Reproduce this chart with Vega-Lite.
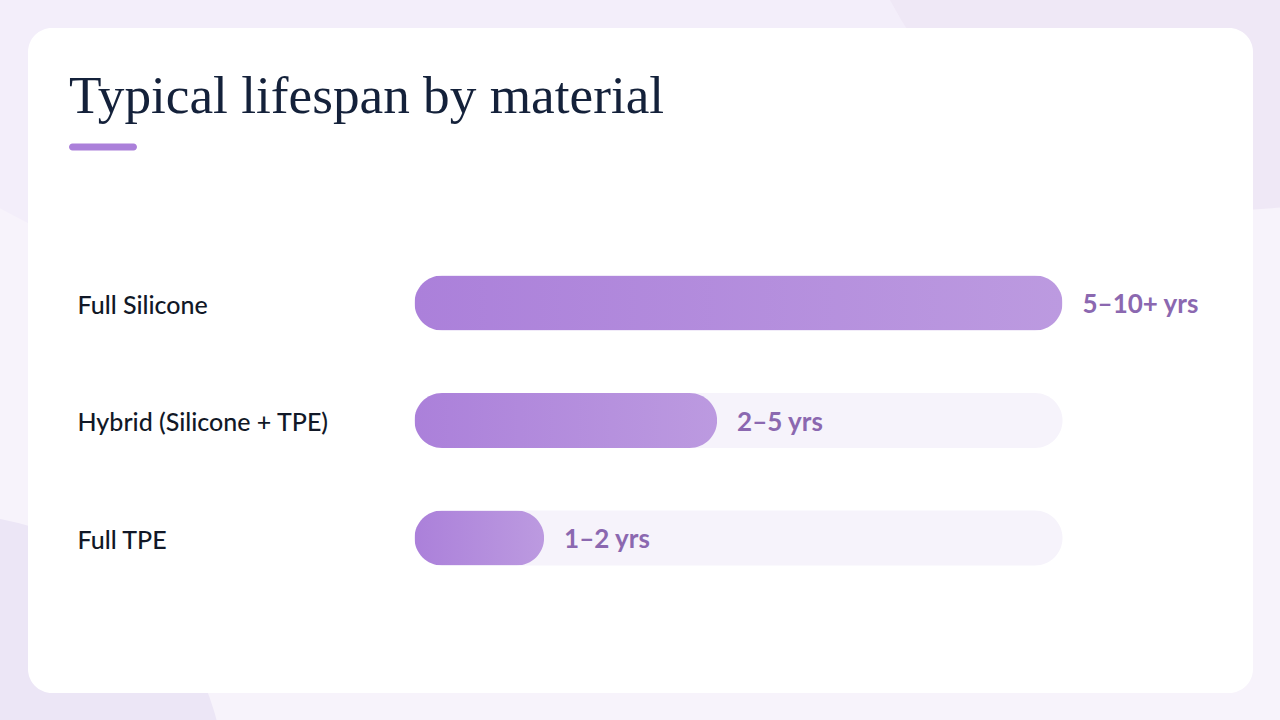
{
  "$schema": "https://vega.github.io/schema/vega-lite/v6.json",
  "autosize": "none",
  "width": 1225,
  "height": 665,
  "padding": {"left": 28, "top": 28, "right": 27, "bottom": 27},
  "background": "#f7f3fb",
  "datasets": {
    "backdrop": [
      {"blob": "top right"},
      {"blob": "lower left"}
    ],
    "lifespan": [
      {"material": "Full Silicone", "share": 100, "label": "5–10+ yrs"},
      {"material": "Hybrid (Silicone + TPE)", "share": 46.7, "label": "2–5 yrs"},
      {"material": "Full TPE", "share": 20, "label": "1–2 yrs"}
    ]
  },
  "config": {"view": {"stroke": null}},
  "layer": [
    {
      "data": {"values": [{"blob": "top left"}]},
      "mark": {"type": "circle", "opacity": 1, "clip": false, "size": 3422500, "color": "#f3eefa"},
      "encoding": {
        "x": {"field": "blob", "type": "nominal", "axis": null, "scale": {"type": "point", "range": [422, 422]}},
        "y": {"field": "blob", "type": "nominal", "axis": null, "scale": {"type": "point", "range": [-628, -628]}}
      }
    },
    {
      "data": {"name": "backdrop"},
      "mark": {"type": "circle", "opacity": 1, "clip": false},
      "encoding": {
        "x": {"field": "blob", "type": "nominal", "axis": null, "scale": {"type": "point", "domain": ["top right", "lower left"], "range": [1208, -78], "padding": 0}},
        "y": {"field": "blob", "type": "nominal", "axis": null, "scale": {"type": "point", "domain": ["top right", "lower left"], "range": [-208, 762], "padding": 0}},
        "size": {"field": "blob", "type": "nominal", "legend": null, "scale": {"domain": ["top right", "lower left"], "range": [608400, 303800]}},
        "color": {"field": "blob", "type": "nominal", "legend": null, "scale": {"domain": ["top right", "lower left"], "range": ["#efe8f6", "#ece6f6"]}}
      }
    },
    {
      "data": {"values": [{"panel": "card"}]},
      "mark": {"type": "rect", "color": "#ffffff", "cornerRadius": 24},
      "encoding": {}
    },
    {
      "data": {"values": [{"heading": "Typical lifespan by material"}]},
      "mark": {"type": "text", "align": "left", "baseline": "alphabetic", "font": "Liberation Serif", "fontSize": 53.25, "color": "#14213a"},
      "encoding": {
        "x": {"field": "heading", "type": "nominal", "axis": null, "scale": {"type": "point", "range": [41, 41]}},
        "y": {"field": "heading", "type": "nominal", "axis": null, "scale": {"type": "point", "range": [85, 85]}},
        "text": {"field": "heading", "type": "nominal"}
      }
    },
    {
      "data": {"values": [{"accent": "title rule"}]},
      "mark": {"type": "tick", "orient": "horizontal", "size": 68, "thickness": 7, "cornerRadius": 3.5, "color": "#ab80da", "opacity": 1},
      "encoding": {
        "x": {"field": "accent", "type": "nominal", "axis": null, "scale": {"type": "point", "range": [75, 75]}},
        "y": {"field": "accent", "type": "nominal", "axis": null, "scale": {"type": "point", "range": [119, 119]}}
      }
    },
    {
      "data": {"name": "lifespan"},
      "encoding": {
        "y": {
          "field": "material",
          "type": "nominal",
          "sort": null,
          "title": null,
          "scale": {"type": "point", "domain": ["Full Silicone", "Hybrid (Silicone + TPE)", "Full TPE"], "range": [275, 510], "padding": 0},
          "axis": {
            "domain": false,
            "ticks": false,
            "grid": false,
            "zindex": 1,
            "labelAlign": "left",
            "labelPadding": -49,
            "labelOffset": 2,
            "labelFont": "Lato",
            "labelFontSize": 25,
            "labelFontWeight": 500,
            "labelColor": "#111827",
            "labelLimit": 400
          }
        }
      },
      "layer": [
        {
          "mark": {"type": "bar", "size": 55, "cornerRadius": 27.5, "color": "#f6f3fb"},
          "encoding": {
            "x": {"datum": 100, "type": "quantitative", "axis": null, "scale": {"domain": [0, 100], "range": [386.5, 1034.5], "nice": false}}
          }
        },
        {
          "mark": {
            "type": "bar",
            "size": 55,
            "cornerRadius": 27.5,
            "color": {
              "gradient": "linear",
              "x1": 0,
              "y1": 0,
              "x2": 1,
              "y2": 0,
              "stops": [
                {"offset": 0, "color": "#ab80da"},
                {"offset": 1, "color": "#bc9ae0"}
              ]
            }
          },
          "encoding": {
            "x": {"field": "share", "type": "quantitative", "axis": null, "scale": {"domain": [0, 100], "range": [386.5, 1034.5], "nice": false}}
          }
        },
        {
          "mark": {"type": "text", "align": "left", "dx": 20, "dy": 2, "font": "Lato", "fontSize": 26, "fontWeight": 700, "color": "#8b68b0"},
          "encoding": {
            "x": {"field": "share", "type": "quantitative", "axis": null, "scale": {"domain": [0, 100], "range": [386.5, 1034.5], "nice": false}},
            "text": {"field": "label", "type": "nominal"}
          }
        }
      ]
    }
  ],
  "resolve": {"scale": {"x": "independent", "y": "independent", "size": "independent", "color": "independent"}}
}
